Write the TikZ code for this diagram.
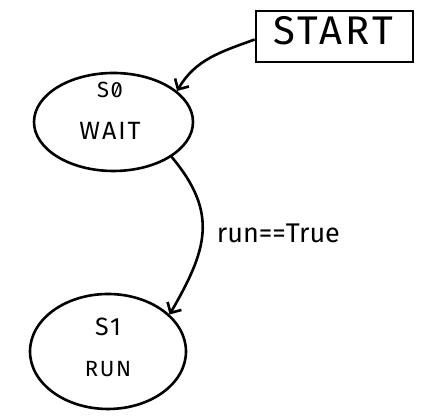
\documentclass[tikz,border=0pt]{standalone}
\usepackage{fontspec}
\setmainfont{Fira Sans}
\usetikzlibrary{shapes.geometric,arrows.meta}
\begin{document}
\begin{tikzpicture}[x=1pt,y=1pt,
  state/.style={draw, ellipse, line width=2.6pt, inner sep=0pt},
  box/.style={draw, rectangle, line width=2.6pt, minimum width=157pt, minimum height=51pt, inner sep=0pt},
  arr/.style={line width=2.6pt, -{Straight Barb[length=8pt,width=16pt]}},
  lbl/.style={inner sep=0pt}]
\useasboundingbox (0,0) rectangle (431,419);
\node[box] (start) at (334.5,382.5) {};
\node[lbl, font=\fontsize{40}{40}\selectfont\addfontfeatures{LetterSpace=8}] (starttext) at (333,388) {START};
\node[state, minimum width=159pt, minimum height=98pt] (wait) at (113.5,297) {};
\node[lbl, font=\fontsize{22}{22}\selectfont\addfontfeatures{RawFeature=+zero,LetterSpace=6}] (waitid) at (110,329) {S0};
\node[lbl, font=\fontsize{25}{25}\selectfont\addfontfeatures{LetterSpace=8}] (waitname) at (110,288) {WAIT};
\node[state, minimum width=156pt, minimum height=115pt] (run) at (108,67.5) {};
\node[lbl, font=\fontsize{25}{25}\selectfont\addfontfeatures{LetterSpace=8}] (runid) at (108,92) {S1};
\node[lbl, font=\fontsize{22}{22}\selectfont\addfontfeatures{LetterSpace=8}] (runname) at (108,50) {RUN};
\draw[arr] ([yshift=-3pt]start.west) to[out=200,in=60] (wait.26);
\draw[arr] (wait.-31) to[out=-50,in=60,looseness=1.2] node[right=10pt, font=\fontsize{27}{27}\selectfont] (cond) {run==True} (run.31);
\end{tikzpicture}
\end{document}
